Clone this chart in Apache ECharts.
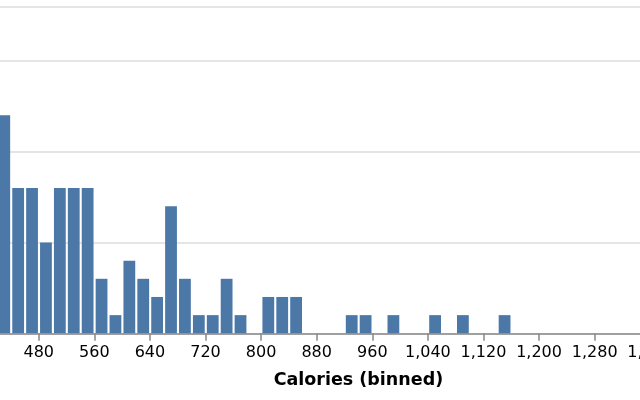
<!DOCTYPE html>
<html>
<head>
<meta charset="utf-8">
<script src="https://cdn.jsdelivr.net/npm/echarts@6/dist/echarts.min.js"></script>
<style>
  html, body { margin: 0; padding: 0; background: #ffffff; }
  #chart { width: 640px; height: 400px; }
</style>
</head>
<body>
<div id="chart"></div>
<script>
// Histogram data: bin start (calories), bin width, counts
const binStarts = [420, 440, 460, 480, 500, 520, 540, 560, 580, 600, 620, 640, 660, 680, 700, 720, 740, 760, 780, 800, 820, 840, 860, 880, 900, 920, 940, 960, 980, 1000, 1020, 1040, 1060, 1080, 1100, 1120, 1140];
const counts    = [12,  8,   8,   5,   8,   8,   8,   3,   1,   4,   3,   2,   7,   3,   1,   1,   3,   1,   0,   2,   2,   2,   0,   0,   0,   1,   1,   0,   1,   0,    0,    1,    0,    1,    0,    0,    1];
const binWidth = 20;
const xTickStep = 80;
const xTitle = 'Calories (binned)';

const seriesData = binStarts.map((s, i) => [s, s + binWidth, counts[i]]).filter(d => d[2] > 0);

const chart = echarts.init(document.getElementById('chart'), null, { renderer: 'canvas' });
chart.setOption({
  animation: false,
  backgroundColor: '#ffffff',
  grid: {
    left: -294.8,
    width: 1306.4,
    top: 6.3,
    height: 327,
    outerBoundsMode: 'none',
    containLabel: false
  },
  xAxis: {
    type: 'value',
    min: 0,
    max: 1880,
    interval: xTickStep,
    name: xTitle,
    nameLocation: 'middle',
    nameGap: 38,
    nameTextStyle: { fontFamily: 'DejaVu Sans', fontWeight: 'bold', fontSize: 17.5, color: '#000' },
    axisLine: { show: true, lineStyle: { color: '#888', width: 1.5 } },
    axisTick: { show: true, length: 7.5, lineStyle: { color: '#888', width: 1.5 } },
    axisLabel: {
      fontFamily: 'DejaVu Sans', fontSize: 16, color: '#000', margin: 11.5,
      formatter: v => v.toLocaleString('en-US'),
      showMaxLabel: false
    },
    splitLine: { show: false }
  },
  yAxis: {
    type: 'value',
    min: 0,
    max: 18,
    interval: 5,
    axisLine: { show: false },
    axisTick: { show: false },
    axisLabel: { show: false },
    splitLine: { show: true, lineStyle: { color: '#ddd', width: 1.5 } }
  },
  series: [{
    type: 'custom',
    data: seriesData,
    encode: { x: [0, 1], y: 2 },
    renderItem: function (params, api) {
      const p0 = api.coord([api.value(0), 0]);
      const p1 = api.coord([api.value(1), api.value(2)]);
      return {
        type: 'rect',
        shape: { x: p0[0] + 1.3, y: p1[1], width: p1[0] - p0[0] - 2.1, height: p0[1] - p1[1] },
        style: { fill: '#4c78a8' }
      };
    },
    z: 3
  }]
});
</script>
</body>
</html>
